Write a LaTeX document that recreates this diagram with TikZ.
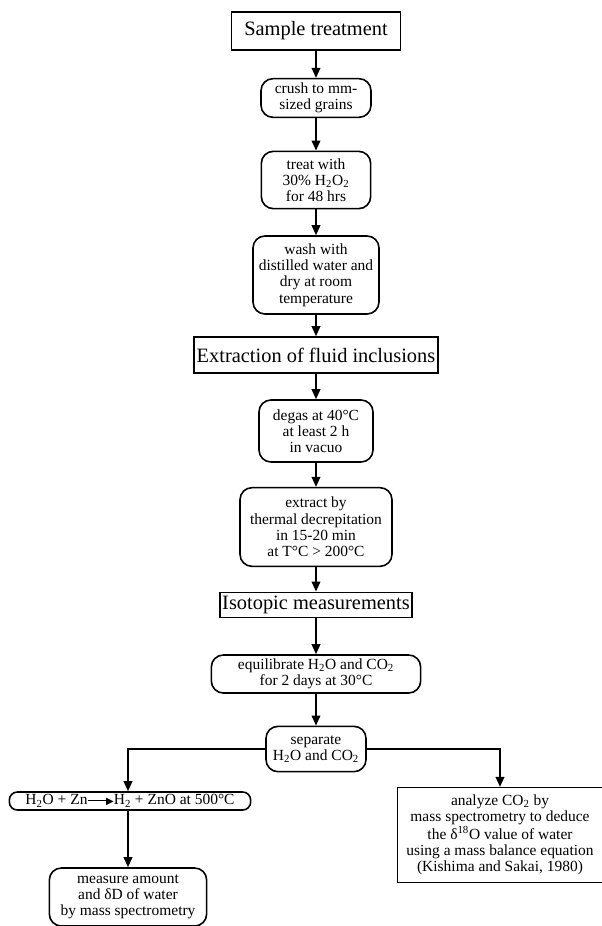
\documentclass[tikz,border=0pt]{standalone}
\usepackage{fontspec}
\setmainfont{Liberation Serif}
\newfontfamily\symfont{DejaVu Sans}
\usetikzlibrary{arrows.meta,positioning}
\newcommand{\water}{H\textsubscript{2}O}
\newcommand{\carb}{CO\textsubscript{2}}
\newcommand{\rxnarrow}{\rule[0.55ex]{16pt}{1pt}\kern-2pt\raisebox{0.1ex}{\symfont\fontsize{7.5}{7.5}\selectfont ▶}}

\begin{document}
\begin{tikzpicture}[x=0.75pt,y=-0.75pt,
  title/.style={draw,line width=1.2pt,align=center,font=\fontsize{15.3}{17}\selectfont,inner sep=1pt},
  stepbox/.style={draw,line width=1.2pt,rounded corners=9pt,align=center,font=\fontsize{11.6}{12.2}\selectfont,inner sep=1pt},
  arr/.style={-{Triangle[length=7.5pt,width=6.5pt]},line width=1.2pt}]
\useasboundingbox (0,0) rectangle (602,926);
% main column
\node[title,minimum width=127pt,minimum height=28.5pt] (sample) at (316,31) {Sample treatment};
\node[stepbox,minimum width=82.5pt,minimum height=29pt] (crush) at (316,98) {crush to mm-\\sized grains};
\node[stepbox,minimum width=82pt,minimum height=43pt] (treat) at (316,180) {treat with\\30\% H\textsubscript{2}O\textsubscript{2}\\for 48 hrs};
\node[stepbox,minimum width=94.5pt,minimum height=58.5pt] (wash) at (316,275) {wash with\\distilled water and\\dry at room\\temperature};
\node[title,minimum width=183pt,minimum height=27pt] (extr) at (316,355) {Extraction of fluid inclusions};
\node[stepbox,minimum width=85.5pt,minimum height=46.5pt] (degas) at (316,431) {degas at 40°C\\at least 2 h\\in vacuo};
\node[stepbox,minimum width=114pt,minimum height=59pt] (decrep) at (316,527) {extract by\\thermal decrepitation\\in 15-20 min\\at T°C > 200°C};
\node[title,minimum width=144pt,minimum height=19pt] (iso) at (316,605) {Isotopic measurements};
\node[stepbox,minimum width=157pt,minimum height=28.5pt] (equil) at (316,674) {equilibrate \water{} and \carb\\for 2 days at 30°C};
\node[stepbox,minimum width=75pt,minimum height=34pt] (sep) at (316,749) {separate\\\water{} and \carb};
% branches
\node[stepbox,rounded corners=6pt,minimum width=181pt,minimum height=13.5pt] (zn) at (130,801) {\water{} + Zn\rxnarrow H\textsubscript{2} + ZnO at 500°C};
\node[stepbox,minimum width=118pt,minimum height=43.5pt] (meas) at (128,897) {measure amount\\and δD of water\\by mass spectrometry};
\node[title,font=\fontsize{11.6}{12.2}\selectfont,minimum width=154pt,minimum height=71pt] (anal) at (500,835) {analyze \carb{} by\\mass spectrometry to deduce\\the δ\textsuperscript{18}O value of water\\using a mass balance equation\\(Kishima and Sakai, 1980)};
\draw[arr] (sample) -- (crush);
\draw[arr] (crush) -- (treat);
\draw[arr] (treat) -- (wash);
\draw[arr] (wash) -- (extr);
\draw[arr] (extr) -- (degas);
\draw[arr] (degas) -- (decrep);
\draw[arr] (decrep) -- (iso);
\draw[arr] (iso) -- (equil);
\draw[arr] (equil) -- (sep);
\draw[arr] (sep.west) -| (zn.north -| meas);
\draw[arr] (sep.east) -| (anal);
\draw[arr] (zn.south -| meas) -- (meas);
\end{tikzpicture}
\end{document}
